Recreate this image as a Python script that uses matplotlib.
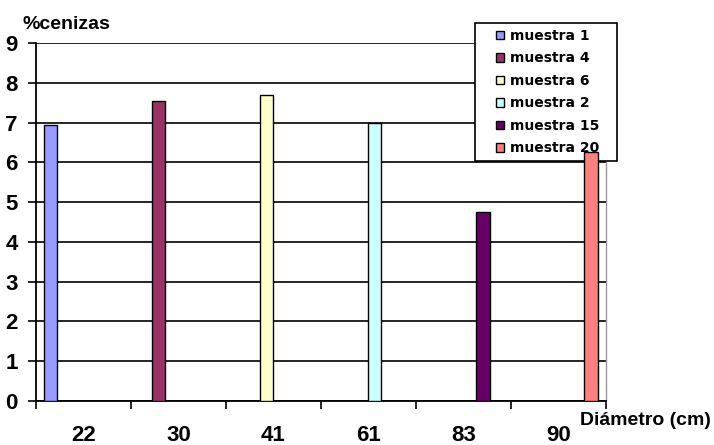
import matplotlib
matplotlib.use("Agg")
import matplotlib.pyplot as plt
from matplotlib.patches import Rectangle
from matplotlib.legend_handler import HandlerPatch
import numpy as np

# Ash content (%) per sample, grouped by trunk diameter (cm)
diametros = ["22", "30", "41", "61", "83", "90"]
muestras = ["muestra 1", "muestra 4", "muestra 6", "muestra 2", "muestra 15", "muestra 20"]
cenizas = [6.95, 7.55, 7.70, 7.00, 4.75, 6.25]
colores = ["#9999FF", "#993366", "#FFFFCC", "#CCFFFF", "#660066", "#FF8080"]
y_ticks = list(range(0, 10))

fam = ["Liberation Sans", "DejaVu Sans"]
plt.rcParams["font.family"] = fam

fig = plt.figure(figsize=(7.14, 4.45), dpi=100)
ax = fig.add_axes([0.0504, 0.0989, 0.7983, 0.8045])

n = len(muestras)
w = 1.0 / (n + 1.3)
x = np.arange(len(diametros))
bars = []
for j, (name, col) in enumerate(zip(muestras, colores)):
    vals = [cenizas[j] if i == j else 0 for i in range(len(diametros))]
    b = ax.bar(x + (j - (n - 1) / 2) * w, vals, width=w, color=col,
               edgecolor="black", linewidth=1.0, label=name, zorder=3)
    bars.append(b)

ax.set_xlim(-0.5, len(diametros) - 0.5)
ax.set_ylim(0, 9)
ax.set_yticks(y_ticks)
ax.set_yticklabels([str(t) for t in y_ticks], fontsize=16, fontweight="bold")
ax.yaxis.grid(True, color="black", linewidth=1.2)
ax.set_axisbelow(True)

# Category boundaries carry the tick marks, labels sit at the centres
ax.set_xticks(np.arange(-0.5, len(diametros)), minor=False)
ax.set_xticklabels([])
ax.set_xticks(x, minor=True)
ax.set_xticklabels(diametros, minor=True, fontsize=16, fontweight="bold")
ax.tick_params(axis="x", which="minor", length=0, pad=17)
ax.tick_params(axis="x", which="major", length=6, width=1.2, direction="out")
ax.tick_params(axis="y", length=6, width=1.2, direction="out", pad=7)

ax.spines["top"].set_visible(False)
ax.spines["right"].set_color("#999999")
ax.spines["right"].set_linewidth(1.0)
ax.spines["left"].set_linewidth(1.3)
ax.spines["bottom"].set_linewidth(1.3)

fig.text(0.031, 0.925, "%cenizas", fontsize=14, fontweight="bold", ha="left", va="bottom")
fig.text(0.812, 0.036, "Diámetro (cm)", fontsize=14, fontweight="bold", ha="left", va="bottom")


def small_square(legend, orig_handle, xdescent, ydescent, width, height, fontsize):
    s = 6.0
    return Rectangle((-xdescent + width - s, -ydescent + (height - s) / 2), s, s)


leg = ax.legend(loc="upper left", bbox_to_anchor=(0.665, 0.636, 0.199, 0.312),
                bbox_transform=fig.transFigure,
                mode="expand", ncol=1, frameon=True, fancybox=False,
                prop={"size": 10, "weight": "bold", "family": "DejaVu Sans"},
                handler_map={type(bars[0].patches[0]): HandlerPatch(patch_func=small_square)},
                handles=[b.patches[0] for b in bars], labels=muestras,
                handlelength=1.7, handleheight=0.7, handletextpad=0.43,
                labelspacing=0.61, borderaxespad=0, borderpad=0.42)
leg.get_frame().set_edgecolor("black")
leg.get_frame().set_linewidth(1.2)
leg.get_frame().set_alpha(None)
leg.get_frame().set_facecolor("white")
leg.set_zorder(2.5)

fig.savefig("out.png", dpi=100, facecolor="white")
